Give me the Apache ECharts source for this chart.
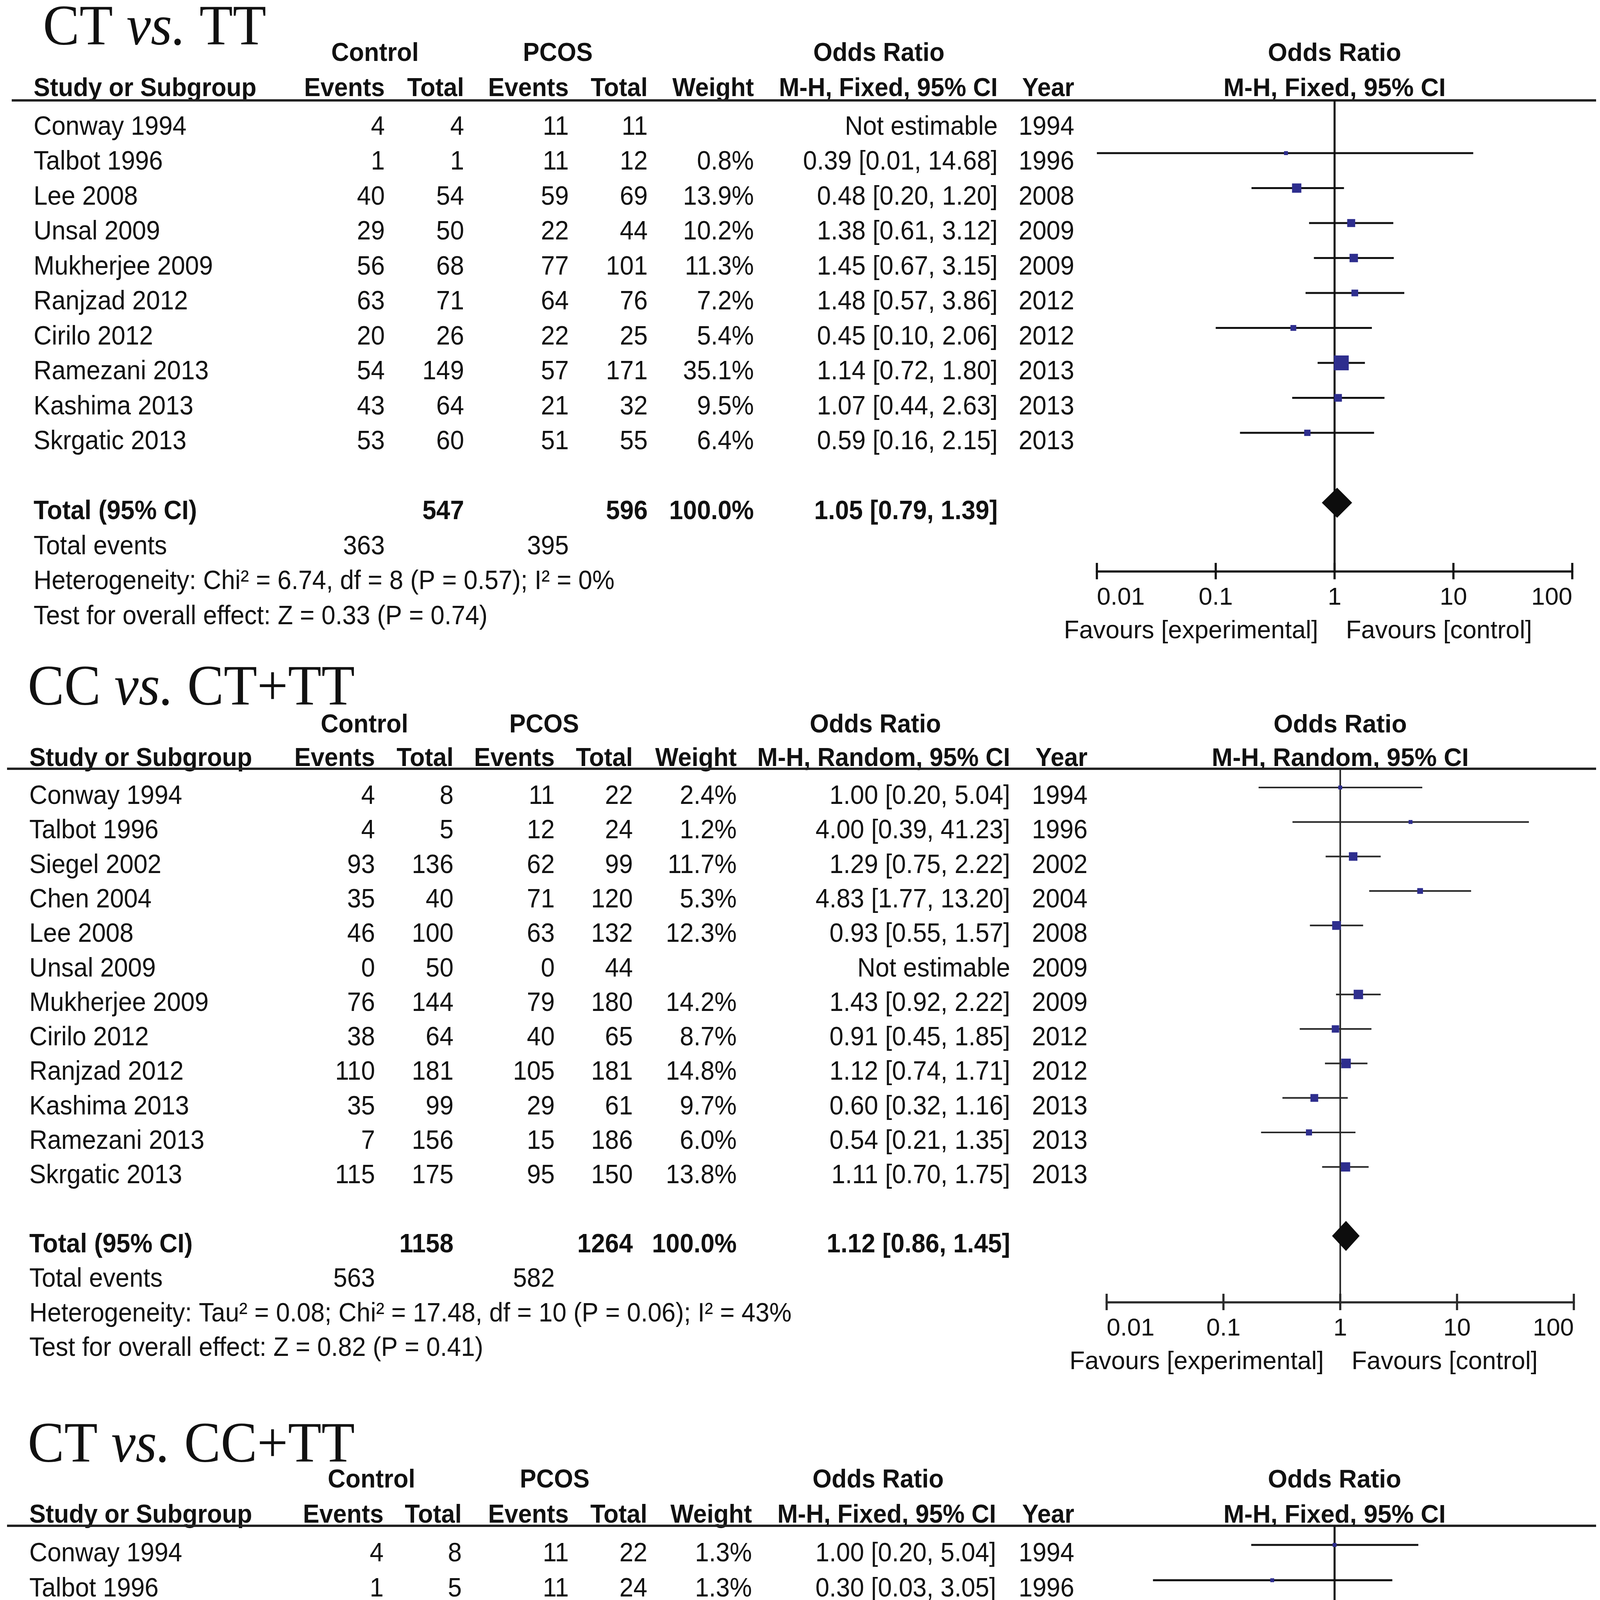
<!DOCTYPE html>
<html>
<head>
<meta charset="utf-8">
<script src="https://cdn.jsdelivr.net/npm/echarts@6/dist/echarts.min.js"></script>
<style>
html,body{margin:0;padding:0;background:#ffffff;}
#c{width:4108px;height:5351px;}
</style>
</head>
<body>
<div id="c"></div>
<script>
// ===================== DATA =====================
const tickValues = [0.01, 0.1, 1, 10, 100];
const tickLabels = ['0.01', '0.1', '1', '10', '100'];
const favourLabels = ['Favours [experimental]', 'Favours [control]'];
const groupHeaders = ['Control', 'PCOS', 'Odds Ratio'];
const colHeaders = ['Study or Subgroup', 'Events', 'Total', 'Events', 'Total', 'Weight', 'Year'];
const footerLabels = ['Total (95% CI)', 'Total events'];
const notEstimable = 'Not estimable';

// Panel 1: CT vs. TT
const p1Title = ['CT ', 'vs.', ' TT'];
const p1Method = 'M-H, Fixed, 95% CI';
const p1Names = ['Conway 1994', 'Talbot 1996', 'Lee 2008', 'Unsal 2009', 'Mukherjee 2009', 'Ranjzad 2012', 'Cirilo 2012', 'Ramezani 2013', 'Kashima 2013', 'Skrgatic 2013'];
const p1CtrlEv = [4, 1, 40, 29, 56, 63, 20, 54, 43, 53];
const p1CtrlTot = [4, 1, 54, 50, 68, 71, 26, 149, 64, 60];
const p1PcosEv = [11, 11, 59, 22, 77, 64, 22, 57, 21, 51];
const p1PcosTot = [11, 12, 69, 44, 101, 76, 25, 171, 32, 55];
const p1Weight = [null, 0.8, 13.9, 10.2, 11.3, 7.2, 5.4, 35.1, 9.5, 6.4];
const p1OR = [null, 0.39, 0.48, 1.38, 1.45, 1.48, 0.45, 1.14, 1.07, 0.59];
const p1Lo = [null, 0.01, 0.20, 0.61, 0.67, 0.57, 0.10, 0.72, 0.44, 0.16];
const p1Hi = [null, 14.68, 1.20, 3.12, 3.15, 3.86, 2.06, 1.80, 2.63, 2.15];
const p1Year = [1994, 1996, 2008, 2009, 2009, 2012, 2012, 2013, 2013, 2013];
const p1Total = {ctrlTot: 547, pcosTot: 596, weight: 100.0, or: 1.05, lo: 0.79, hi: 1.39, ctrlEv: 363, pcosEv: 395};
const p1Het = 'Heterogeneity: Chi² = 6.74, df = 8 (P = 0.57); I² = 0%';
const p1Test = 'Test for overall effect: Z = 0.33 (P = 0.74)';

// Panel 2: CC vs. CT+TT
const p2Title = ['CC ', 'vs.', ' CT+TT'];
const p2Method = 'M-H, Random, 95% CI';
const p2Names = ['Conway 1994', 'Talbot 1996', 'Siegel 2002', 'Chen 2004', 'Lee 2008', 'Unsal 2009', 'Mukherjee 2009', 'Cirilo 2012', 'Ranjzad 2012', 'Kashima 2013', 'Ramezani 2013', 'Skrgatic 2013'];
const p2CtrlEv = [4, 4, 93, 35, 46, 0, 76, 38, 110, 35, 7, 115];
const p2CtrlTot = [8, 5, 136, 40, 100, 50, 144, 64, 181, 99, 156, 175];
const p2PcosEv = [11, 12, 62, 71, 63, 0, 79, 40, 105, 29, 15, 95];
const p2PcosTot = [22, 24, 99, 120, 132, 44, 180, 65, 181, 61, 186, 150];
const p2Weight = [2.4, 1.2, 11.7, 5.3, 12.3, null, 14.2, 8.7, 14.8, 9.7, 6.0, 13.8];
const p2OR = [1.00, 4.00, 1.29, 4.83, 0.93, null, 1.43, 0.91, 1.12, 0.60, 0.54, 1.11];
const p2Lo = [0.20, 0.39, 0.75, 1.77, 0.55, null, 0.92, 0.45, 0.74, 0.32, 0.21, 0.70];
const p2Hi = [5.04, 41.23, 2.22, 13.20, 1.57, null, 2.22, 1.85, 1.71, 1.16, 1.35, 1.75];
const p2Year = [1994, 1996, 2002, 2004, 2008, 2009, 2009, 2012, 2012, 2013, 2013, 2013];
const p2Total = {ctrlTot: 1158, pcosTot: 1264, weight: 100.0, or: 1.12, lo: 0.86, hi: 1.45, ctrlEv: 563, pcosEv: 582};
const p2Het = 'Heterogeneity: Tau² = 0.08; Chi² = 17.48, df = 10 (P = 0.06); I² = 43%';
const p2Test = 'Test for overall effect: Z = 0.82 (P = 0.41)';

// Panel 3: CT vs. CC+TT
const p3Title = ['CT ', 'vs.', ' CC+TT'];
const p3Method = 'M-H, Fixed, 95% CI';
const p3Names = ['Conway 1994', 'Talbot 1996', 'Lee 2008', 'Mukherjee 2009', 'Unsal 2009', 'Ranjzad 2012', 'Cirilo 2012', 'Skrgatic 2013', 'Ramezani 2013', 'Kashima 2013'];
const p3CtrlEv = [4, 1, 40, 56, 29, 63, 20, 53, 54, 43];
const p3CtrlTot = [8, 5, 100, 144, 50, 181, 64, 175, 156, 99];
const p3PcosEv = [11, 11, 59, 77, 22, 64, 22, 51, 57, 21];
const p3PcosTot = [22, 24, 132, 180, 44, 181, 65, 150, 186, 61];
const p3Weight = [1.3, 1.3, 13.2, 18.0, 4.2, 18.0, 6.5, 16.5, 14.7, 6.3];
const p3OR = [1.00, 0.30, 0.82, 0.85, 1.38, 0.98, 0.89, 0.84, 1.20, 1.46];
const p3Lo = [0.20, 0.03, 0.49, 0.54, 0.61, 0.63, 0.43, 0.53, 0.76, 0.76];
const p3Hi = [5.04, 3.05, 1.40, 1.33, 3.12, 1.50, 1.86, 1.35, 1.89, 2.83];
const p3Year = [1994, 1996, 2008, 2009, 2009, 2012, 2012, 2013, 2013, 2013];
const p3Total = {ctrlTot: 982, pcosTot: 1045, weight: 100.0, or: 0.98, lo: 0.81, hi: 1.17, ctrlEv: 363, pcosEv: 395};
const p3Het = 'Heterogeneity: Chi² = 5.12, df = 9 (P = 0.82); I² = 0%';
const p3Test = 'Test for overall effect: Z = 0.24 (P = 0.81)';

// ===================== LAYOUT (pixels) =====================
const LAYOUT = [
  {titleX: 110, titleY: 76, head1Y: 138, head2Y: 228, lineY: 257, lineX0: 30, axisY: 1463, row0: 302.5, rowH: 89.5, fx0: 2808, fx1: 4025,
   lw: 5.2, lc: '#111',
   cols: {name: 86, ctrlEv: 985, ctrlTot: 1188, pcosEv: 1456, pcosTot: 1658, weight: 1930, ci: 2554, year: 2750, control: 960, pcos: 1428, orHead: 2250}},
  {titleX: 71, titleY: 1766, head1Y: 1857, head2Y: 1943, lineY: 1968, lineX0: 18, axisY: 3334, row0: 2016, rowH: 88.3, fx0: 2833, fx1: 4029,
   lw: 4.2, lc: '#2a2a2a',
   cols: {name: 75, ctrlEv: 960, ctrlTot: 1161, pcosEv: 1420, pcosTot: 1620, weight: 1886, ci: 2586, year: 2784, control: 933, pcos: 1393, orHead: 2241}},
  {titleX: 71, titleY: 3704, head1Y: 3790, head2Y: 3880, lineY: 3906, lineX0: 18, axisY: 5127, row0: 3955, rowH: 90.4, fx0: 2806, fx1: 4027,
   lw: 5.2, lc: '#111',
   cols: {name: 75, ctrlEv: 982, ctrlTot: 1182, pcosEv: 1456, pcosTot: 1657, weight: 1925, ci: 2550, year: 2750, control: 951, pcos: 1420, orHead: 2248}}
];
const FONT = '"Liberation Sans", Arial, Helvetica, sans-serif';
const SERIF = '"Liberation Serif", "Times New Roman", serif';
const TEXT_COLOR = '#111';
const SQUARE_COLOR = '#2e2e8e';
const TEXT_DY = 23;      // table text offset below marker row
const BODY_FS = 64, BODY_SY = 1.08;
const HEAD_FS = 63, HEAD_SY = 1.05;
const RIGHT_FS = 64;

const PANELS = [
  {title: p1Title, method: p1Method, names: p1Names, ctrlEv: p1CtrlEv, ctrlTot: p1CtrlTot, pcosEv: p1PcosEv, pcosTot: p1PcosTot,
   weight: p1Weight, or: p1OR, lo: p1Lo, hi: p1Hi, year: p1Year, total: p1Total, het: p1Het, test: p1Test},
  {title: p2Title, method: p2Method, names: p2Names, ctrlEv: p2CtrlEv, ctrlTot: p2CtrlTot, pcosEv: p2PcosEv, pcosTot: p2PcosTot,
   weight: p2Weight, or: p2OR, lo: p2Lo, hi: p2Hi, year: p2Year, total: p2Total, het: p2Het, test: p2Test},
  {title: p3Title, method: p3Method, names: p3Names, ctrlEv: p3CtrlEv, ctrlTot: p3CtrlTot, pcosEv: p3PcosEv, pcosTot: p3PcosTot,
   weight: p3Weight, or: p3OR, lo: p3Lo, hi: p3Hi, year: p3Year, total: p3Total, het: p3Het, test: p3Test}
];

// ===================== HELPERS =====================
function txt(x, y, s, o) {
  o = o || {};
  return {
    type: 'text', x: x, y: y, scaleX: 1, scaleY: o.sy || 1, originX: 0, originY: 0, silent: true,
    style: {
      text: String(s), x: 0, y: 0, fill: o.color || TEXT_COLOR,
      fontSize: o.fs || BODY_FS, fontFamily: FONT, fontWeight: o.bold ? 'bold' : 'normal',
      align: o.align || 'left', verticalAlign: 'middle'
    }
  };
}
function fmtCI(or, lo, hi) {
  return or.toFixed(2) + ' [' + lo.toFixed(2) + ', ' + hi.toFixed(2) + ']';
}
function tickText(v) {
  for (let i = 0; i < tickValues.length; i++) {
    if (Math.abs(Math.log10(v) - Math.log10(tickValues[i])) < 1e-6) return tickLabels[i];
  }
  return '';
}
function squareSize(w) { return Math.max(10, 6.4 * Math.sqrt(w)); }

// ===================== OPTION =====================
const grids = [], xAxes = [], yAxes = [], series = [];

PANELS.forEach(function (P, k) {
  const L = LAYOUT[k];
  const C = L.cols;
  const yMin = (L.lineY - L.row0) / L.rowH;
  const yMax = (L.axisY - L.row0) / L.rowH;
  const n = P.names.length;

  grids.push({left: L.fx0, top: L.lineY, width: L.fx1 - L.fx0, height: L.axisY - L.lineY, containLabel: false, outerBoundsMode: 'none'});
  xAxes.push({
    type: 'log', logBase: 10, gridIndex: k, min: tickValues[0], max: tickValues[tickValues.length - 1],
    axisLine: {show: true, onZero: false, lineStyle: {color: L.lc, width: 5.5}},
    axisTick: {show: false}, minorTick: {show: false}, splitLine: {show: false},
    axisLabel: {
      show: true, fontSize: 63, color: TEXT_COLOR, fontFamily: FONT, margin: 36,
      showMinLabel: true, showMaxLabel: true, alignMinLabel: 'left', alignMaxLabel: 'right',
      formatter: function (v) { return tickText(v); }
    }
  });
  yAxes.push({type: 'value', gridIndex: k, inverse: true, min: yMin, max: yMax, show: false});

  // Headers, title, reference line, header rule, favours
  series.push({
    type: 'custom', name: 'frame' + k, xAxisIndex: k, yAxisIndex: k, silent: true, clip: false, z: 3,
    data: [[1, yMin]], encode: {x: 0, y: 1},
    renderItem: function (params, api) {
      const top = api.coord([1, yMin]);
      const bot = api.coord([1, yMax]);
      const xRef = top[0];
      const ch = [];
      ch.push({
        type: 'text', x: L.titleX, y: L.titleY, scaleY: 1.04, originX: 0, originY: 0, silent: true,
        style: {
          text: '{n|' + P.title[0] + '}{i|' + P.title[1] + '}{n|' + P.title[2] + '}',
          x: 0, y: 0, align: 'left', verticalAlign: 'middle', fill: TEXT_COLOR,
          rich: {
            n: {fontSize: 140, fontFamily: SERIF, fill: TEXT_COLOR},
            i: {fontSize: 140, fontFamily: SERIF, fontStyle: 'italic', fill: TEXT_COLOR}
          }
        }
      });
      const ho = {bold: true, fs: HEAD_FS, sy: HEAD_SY, align: 'center'};
      ch.push(txt(C.control, L.head1Y, groupHeaders[0], ho));
      ch.push(txt(C.pcos, L.head1Y, groupHeaders[1], ho));
      ch.push(txt(C.orHead, L.head1Y, groupHeaders[2], ho));
      const hr = {bold: true, fs: HEAD_FS, sy: HEAD_SY, align: 'right'};
      ch.push(txt(C.name, L.head2Y, colHeaders[0], {bold: true, fs: HEAD_FS, sy: HEAD_SY, align: 'left'}));
      ch.push(txt(C.ctrlEv, L.head2Y, colHeaders[1], hr));
      ch.push(txt(C.ctrlTot, L.head2Y, colHeaders[2], hr));
      ch.push(txt(C.pcosEv, L.head2Y, colHeaders[3], hr));
      ch.push(txt(C.pcosTot, L.head2Y, colHeaders[4], hr));
      ch.push(txt(C.weight, L.head2Y, colHeaders[5], hr));
      ch.push(txt(C.ci, L.head2Y, P.method, hr));
      ch.push(txt(C.year, L.head2Y, colHeaders[6], hr));
      ch.push(txt(xRef, L.head1Y, groupHeaders[2], {bold: true, fs: RIGHT_FS, align: 'center'}));
      ch.push(txt(xRef, L.head2Y, P.method, {bold: true, fs: RIGHT_FS, align: 'center'}));
      ch.push({type: 'line', silent: true, shape: {x1: L.lineX0, y1: top[1], x2: 4086, y2: top[1]}, style: {stroke: '#222', lineWidth: 6}});
      ch.push({type: 'line', silent: true, shape: {x1: xRef, y1: top[1], x2: xRef, y2: bot[1]}, style: {stroke: L.lc, lineWidth: L.lw}});
      ch.push(txt(xRef - 42, bot[1] + 153, favourLabels[0], {fs: RIGHT_FS, align: 'right'}));
      ch.push(txt(xRef + 29, bot[1] + 153, favourLabels[1], {fs: RIGHT_FS, align: 'left'}));
      return {type: 'group', children: ch};
    }
  });

  // Axis ticks (crossing the axis line)
  series.push({
    type: 'custom', name: 'ticks' + k, xAxisIndex: k, yAxisIndex: k, silent: true, clip: false, z: 3,
    data: tickValues.map(function (v) { return [v, yMax]; }), encode: {x: 0, y: 1},
    renderItem: function (params, api) {
      const p = api.coord([api.value(0), api.value(1)]);
      return {type: 'line', silent: true, shape: {x1: p[0], y1: p[1] - 22, x2: p[0], y2: p[1] + 20}, style: {stroke: L.lc, lineWidth: 5.5}};
    }
  });

  // Study rows (table text)
  series.push({
    type: 'custom', name: 'table' + k, xAxisIndex: k, yAxisIndex: k, silent: true, clip: false, z: 3,
    data: P.names.map(function (nm, i) { return [1, i, i]; }), encode: {x: 0, y: 1},
    renderItem: function (params, api) {
      const i = api.value(2);
      const y = api.coord([1, api.value(1)])[1] + TEXT_DY;
      const o = {sy: BODY_SY, align: 'right'};
      const ch = [];
      ch.push(txt(C.name, y, P.names[i], {sy: BODY_SY, align: 'left'}));
      ch.push(txt(C.ctrlEv, y, P.ctrlEv[i], o));
      ch.push(txt(C.ctrlTot, y, P.ctrlTot[i], o));
      ch.push(txt(C.pcosEv, y, P.pcosEv[i], o));
      ch.push(txt(C.pcosTot, y, P.pcosTot[i], o));
      if (P.weight[i] != null) ch.push(txt(C.weight, y, P.weight[i].toFixed(1) + '%', o));
      ch.push(txt(C.ci, y, P.or[i] != null ? fmtCI(P.or[i], P.lo[i], P.hi[i]) : notEstimable, o));
      ch.push(txt(C.year, y, P.year[i], o));
      return {type: 'group', children: ch};
    }
  });

  // Footer rows
  series.push({
    type: 'custom', name: 'footer' + k, xAxisIndex: k, yAxisIndex: k, silent: true, clip: false, z: 3,
    data: [[1, n + 1]], encode: {x: 0, y: 1},
    renderItem: function (params, api) {
      const r = api.value(1);
      const yT = api.coord([1, r])[1] + TEXT_DY;
      const yE = api.coord([1, r + 1])[1] + TEXT_DY;
      const yH = api.coord([1, r + 2])[1] + TEXT_DY;
      const yZ = api.coord([1, r + 3])[1] + TEXT_DY;
      const T = P.total;
      const b = {sy: BODY_SY, align: 'right', bold: true};
      const nr = {sy: BODY_SY, align: 'right'};
      const ch = [];
      ch.push(txt(C.name, yT, footerLabels[0], {sy: BODY_SY, bold: true}));
      ch.push(txt(C.ctrlTot, yT, T.ctrlTot, b));
      ch.push(txt(C.pcosTot, yT, T.pcosTot, b));
      ch.push(txt(C.weight, yT, T.weight.toFixed(1) + '%', b));
      ch.push(txt(C.ci, yT, fmtCI(T.or, T.lo, T.hi), b));
      ch.push(txt(C.name, yE, footerLabels[1], {sy: BODY_SY}));
      ch.push(txt(C.ctrlEv, yE, T.ctrlEv, nr));
      ch.push(txt(C.pcosEv, yE, T.pcosEv, nr));
      ch.push(txt(C.name, yH, P.het, {sy: BODY_SY}));
      ch.push(txt(C.name, yZ, P.test, {sy: BODY_SY}));
      return {type: 'group', children: ch};
    }
  });

  // Forest: CI lines and weighted squares
  const forestData = [];
  P.or.forEach(function (v, i) {
    if (v != null) forestData.push([v, i, P.lo[i], P.hi[i], P.weight[i]]);
  });
  series.push({
    type: 'custom', name: 'forest' + k, xAxisIndex: k, yAxisIndex: k, silent: true, clip: false, z: 4,
    data: forestData, encode: {x: 0, y: 1},
    renderItem: function (params, api) {
      const row = api.value(1);
      const p = api.coord([api.value(0), row]);
      const l = api.coord([api.value(2), row]);
      const h = api.coord([api.value(3), row]);
      const s = squareSize(api.value(4));
      return {type: 'group', children: [
        {type: 'line', shape: {x1: l[0], y1: l[1], x2: h[0], y2: h[1]}, style: {stroke: L.lc, lineWidth: L.lw}},
        {type: 'rect', shape: {x: p[0] - s / 2, y: p[1] - s / 2, width: s, height: s}, style: {fill: SQUARE_COLOR}}
      ]};
    }
  });

  // Pooled diamond
  series.push({
    type: 'custom', name: 'diamond' + k, xAxisIndex: k, yAxisIndex: k, silent: true, clip: false, z: 4,
    data: [[P.total.or, n + 1, P.total.lo, P.total.hi]], encode: {x: 0, y: 1},
    renderItem: function (params, api) {
      const row = api.value(1);
      const p = api.coord([api.value(0), row]);
      const l = api.coord([api.value(2), row]);
      const h = api.coord([api.value(3), row]);
      const hh = 37;
      return {type: 'polygon', shape: {points: [[l[0], p[1]], [p[0], p[1] - hh], [h[0], p[1]], [p[0], p[1] + hh]]},
        style: {fill: '#0d0d0d', stroke: '#0d0d0d', lineWidth: 2}};
    }
  });
});

const option = {
  backgroundColor: '#ffffff',
  animation: false,
  grid: grids,
  xAxis: xAxes,
  yAxis: yAxes,
  series: series
};

const chart = echarts.init(document.getElementById('c'), null, {renderer: 'canvas', width: 4108, height: 5351, devicePixelRatio: 1});
chart.setOption(option);
</script>
</body>
</html>
